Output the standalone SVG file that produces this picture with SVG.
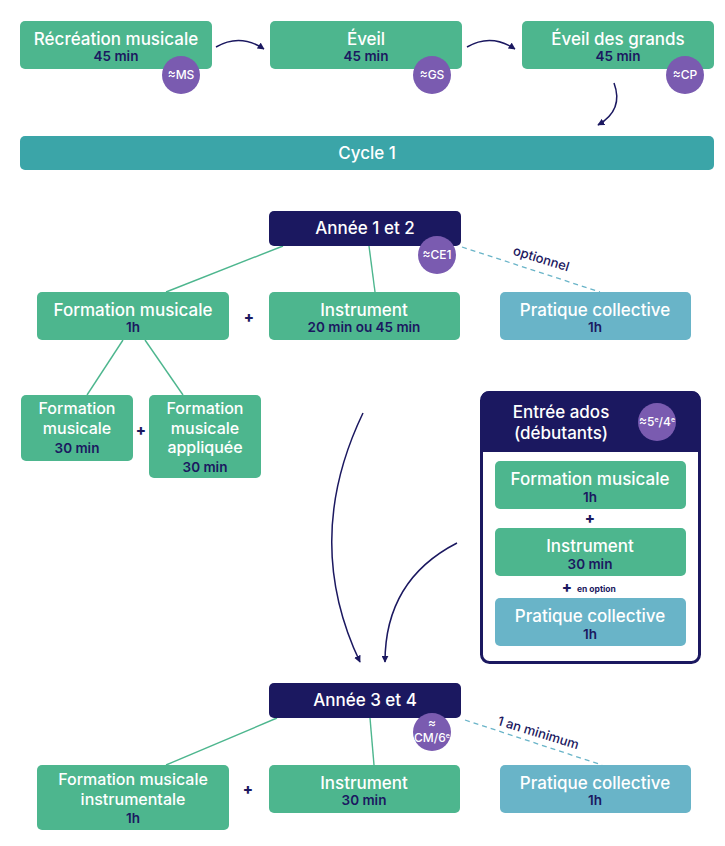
<svg xmlns="http://www.w3.org/2000/svg" width="725" height="846" viewBox="0 0 725 846">
<defs>
<style>
.g{fill:#4db68e}
.b{fill:#69b4c8}
.n{fill:#1b1860}
.p{fill:#7a5bb0}
.t{font-family:Inter,"Noto Sans",sans-serif;font-size:17px;font-weight:500;fill:#fff;text-anchor:middle}
.m{font-family:Inter,"Noto Sans",sans-serif;font-size:16px;font-weight:500;fill:#fff;text-anchor:middle}
.s{font-family:Inter,"Noto Sans",sans-serif;font-size:13.5px;font-weight:600;fill:#1b1860;text-anchor:middle}
.bt{font-family:Inter,"Noto Sans",sans-serif;font-size:12px;font-weight:500;fill:#fff;text-anchor:middle}
.pl{font-family:Inter,"Noto Sans",sans-serif;font-size:15px;font-weight:800;fill:#1b1860;text-anchor:middle}
.lb{font-family:Inter,"Noto Sans",sans-serif;font-size:13px;font-weight:500;fill:#1b1860;text-anchor:middle}
.arr{fill:none;stroke:#1b1860;stroke-width:1.5;marker-end:url(#ah)}
.ln{stroke:#4db68e;stroke-width:1.4;fill:none}
.ds{stroke:#69b4c8;stroke-width:1.3;stroke-dasharray:5 4;fill:none}
</style>
<marker id="ah" viewBox="0 0 10 10" refX="9" refY="5" markerWidth="7" markerHeight="7" orient="auto" markerUnits="userSpaceOnUse">
<path d="M0,0 L10,5 L0,10 Z" fill="#1b1860"/>
</marker>
</defs>
<rect width="725" height="846" fill="#fff"/>

<g id="connectors">
<path class="arr" d="M216,47 Q240,33 264,49"/>
<path class="arr" d="M467,47 Q491,33 515,49"/>
<path class="arr" d="M614,83 Q624,110 598,125"/>
<path class="arr" d="M363,413 Q302,540 360,662"/>
<path class="arr" d="M457,543 Q385,580 385,662"/>
<line class="ln" x1="283" y1="246" x2="166" y2="292"/>
<line class="ln" x1="369" y1="246" x2="375" y2="292"/>
<line class="ln" x1="123" y1="340" x2="87" y2="395"/>
<line class="ln" x1="145" y1="340" x2="183" y2="395"/>
<line class="ln" x1="277" y1="718" x2="166" y2="765"/>
<line class="ln" x1="370" y1="718" x2="374" y2="765"/>
<line class="ds" x1="462" y1="247" x2="600" y2="292"/>
<line class="ds" x1="465" y1="720" x2="602" y2="765"/>
<text class="lb" transform="translate(540,263) rotate(17)">optionnel</text>
<text class="lb" transform="translate(537,737) rotate(17)">1 an minimum</text>
</g>

<g id="recreation">
<rect class="g" x="20" y="21" width="192" height="48" rx="5"/>
<text class="t" x="116" y="45">Récréation musicale</text>
<text class="s" x="116" y="61">45 min</text>
<circle class="p" cx="181" cy="75" r="19"/>
<text class="bt" x="181" y="79">≈MS</text>
</g>
<g id="eveil">
<rect class="g" x="270" y="21" width="192" height="48" rx="5"/>
<text class="t" x="366" y="45">Éveil</text>
<text class="s" x="366" y="61">45 min</text>
<circle class="p" cx="432" cy="75" r="19"/>
<text class="bt" x="432" y="79">≈GS</text>
</g>
<g id="eveil-grands">
<rect class="g" x="522" y="21" width="192" height="48" rx="5"/>
<text class="t" x="618" y="45">Éveil des grands</text>
<text class="s" x="618" y="61">45 min</text>
<circle class="p" cx="685" cy="75" r="19"/>
<text class="bt" x="685" y="79">≈CP</text>
</g>
<g id="cycle1">
<rect x="20" y="136" width="694" height="34" rx="5" fill="#3ba5a8"/>
<text class="t" x="367" y="159">Cycle 1</text>
</g>

<g id="annee12">
<rect class="n" x="269" y="211" width="192" height="35" rx="5"/>
<text class="t" x="365" y="234">Année 1 et 2</text>
<circle class="p" cx="437" cy="255" r="19"/>
<text class="bt" x="437" y="259">≈CE1</text>
</g>
<g id="fm1">
<rect class="g" x="37" y="292" width="192" height="48" rx="5"/>
<text class="t" x="133" y="316">Formation musicale</text>
<text class="s" x="133" y="332">1h</text>
</g>
<text class="pl" x="249" y="323">+</text>
<g id="instr1">
<rect class="g" x="269" y="292" width="191" height="48" rx="5"/>
<text class="t" x="364" y="316">Instrument</text>
<text class="s" x="364" y="332">20 min ou 45 min</text>
</g>
<g id="pc1">
<rect class="b" x="500" y="292" width="191" height="48" rx="5"/>
<text class="t" x="595" y="316">Pratique collective</text>
<text class="s" x="595" y="332">1h</text>
</g>
<g id="fm30">
<rect class="g" x="21" y="395" width="112" height="66" rx="5"/>
<text class="m" x="77" y="414">Formation</text>
<text class="m" x="77" y="433.5">musicale</text>
<text class="s" x="77" y="453">30 min</text>
</g>
<text class="pl" x="141" y="436">+</text>
<g id="fma">
<rect class="g" x="149" y="395" width="112" height="83" rx="5"/>
<text class="m" x="205" y="414">Formation</text>
<text class="m" x="205" y="433.5">musicale</text>
<text class="m" x="205" y="453">appliquée</text>
<text class="s" x="205" y="471.5">30 min</text>
</g>

<g id="entree-ados">
<rect x="481.5" y="392.5" width="218" height="270" rx="8" fill="#fff" stroke="#1b1860" stroke-width="3"/>
<path class="n" d="M481,400 Q481,391 490,391 L691,391 Q700,391 700,400 L700,452 L481,452 Z"/>
<text class="t" x="561" y="418">Entrée ados</text>
<text class="t" x="561" y="439">(débutants)</text>
<circle class="p" cx="657" cy="422" r="19"/>
<text class="bt" x="657" y="426">≈5<tspan font-size="7" dy="-4">e</tspan><tspan dy="4">/4</tspan><tspan font-size="7" dy="-4">e</tspan></text>
<rect class="g" x="495" y="461" width="191" height="48" rx="5"/>
<text class="t" x="590" y="485">Formation musicale</text>
<text class="s" x="590" y="502">1h</text>
<text class="pl" x="590" y="524">+</text>
<rect class="g" x="495" y="528" width="191" height="48" rx="5"/>
<text class="t" x="590" y="552">Instrument</text>
<text class="s" x="590" y="569">30 min</text>
<text class="pl" x="567" y="593">+</text>
<text x="577" y="592" font-family="Inter,'Noto Sans',sans-serif" font-size="8.5" font-weight="700" fill="#1b1860">en option</text>
<rect class="b" x="495" y="598" width="191" height="48" rx="5"/>
<text class="t" x="590" y="622">Pratique collective</text>
<text class="s" x="590" y="639">1h</text>
</g>

<g id="annee34">
<rect class="n" x="269" y="683" width="192" height="35" rx="5"/>
<text class="t" x="365" y="706">Année 3 et 4</text>
<circle class="p" cx="432" cy="732" r="19"/>
<text class="bt" x="432" y="727">≈</text>
<text class="bt" x="432" y="742">CM/6<tspan font-size="7" dy="-4">e</tspan></text>
</g>
<g id="fmi">
<rect class="g" x="37" y="765" width="192" height="65" rx="5"/>
<text class="m" x="133" y="785">Formation musicale</text>
<text class="m" x="133" y="804.5">instrumentale</text>
<text class="s" x="133" y="823">1h</text>
</g>
<text class="pl" x="248" y="795">+</text>
<g id="instr2">
<rect class="g" x="269" y="765" width="191" height="48" rx="5"/>
<text class="t" x="364" y="789">Instrument</text>
<text class="s" x="364" y="805">30 min</text>
</g>
<g id="pc2">
<rect class="b" x="500" y="765" width="191" height="48" rx="5"/>
<text class="t" x="595" y="789">Pratique collective</text>
<text class="s" x="595" y="805">1h</text>
</g>
</svg>
